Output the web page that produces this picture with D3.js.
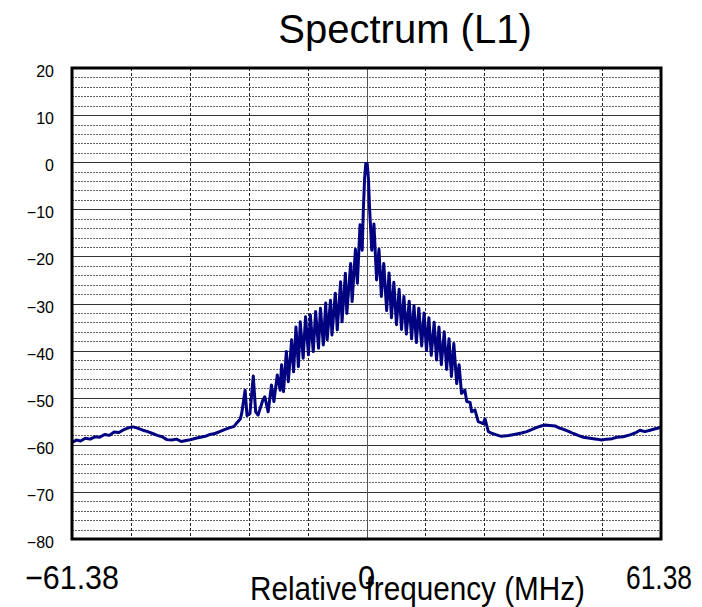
<!DOCTYPE html>
<html>
<head>
<meta charset="utf-8">
<script src="https://cdn.jsdelivr.net/npm/d3@7"></script>
<style>
  body { margin: 0; background: #fff; }
  svg { display: block; }
  text { font-family: "Liberation Sans", Arial, sans-serif; fill: #000; }
</style>
</head>
<body>
<div id="chart"></div>
<script>
/* ---------- data ---------- */
const titleText = 'Spectrum (L1)';
const xLabelText = 'Relative frequency (MHz)';
const yTicks = [20, 10, 0, -10, -20, -30, -40, -50, -60, -70, -80];
const xTickValues = [-61.38, 0, 61.38];
const xTickLabels = ['\u221261.38', '0', '61.38'];

// relative frequency (MHz)
const freq = [
  -61.38, -60.5, -59.6, -58.6, -57.6, -56.6, -55.6, -54.6, -53.6, -52.6,
  -51.6, -50.6, -49.6, -48.6, -47.6, -46.6, -45.6, -44.6, -43.6, -42.6,
  -41.6, -40.6, -39.6, -38.6, -37.6, -36.6, -35.6, -34.6, -33.6, -32.6,
  -31.6, -30.6, -29.6, -28.6, -27.6, -27.0, -26.3,
  -26.0, -25.3, -24.9, -24.3, -23.6, -23.1, -22.6, -21.6, -21.2, -20.5,
  -19.8, -19.3, -18.6, -18.0, -17.7, -17.3, -16.7, -16.3, -15.6, -15.2,
  -14.7, -14.2, -13.8, -13.2, -12.7, -12.1, -11.7, -11.1, -10.6, -10.0,
  -9.6, -9.0, -8.5, -8.2, -7.5, -7.2, -6.5, -6.1, -5.4, -5.1,
  -4.4, -4.1, -3.3, -3.0, -2.3, -1.9, -1.35, -0.9, -0.65, -0.4,
  -0.15, 0.15, 0.4, 0.65, 1.1, 1.55, 2.1, 2.6, 3.1, 3.6, 4.2,
  4.7, 5.2, 5.7, 6.25, 6.8, 7.3, 7.8, 8.3, 8.9, 9.4,
  9.9, 10.4, 10.9, 11.5, 12.0, 12.5, 13.0, 13.5, 14.1, 14.6,
  15.1, 15.6, 16.2, 16.7, 17.2, 17.7, 18.2, 18.8, 19.3, 19.8,
  20.5, 20.9, 21.6, 21.9, 22.6, 23.3, 24.3, 24.7, 25.4,
  26.2, 27.1, 28.1, 29.2, 30.2, 31.3, 32.3, 33.4, 34.4, 35.5,
  36.4, 37.2, 38.2, 39.3, 40.1, 41.0, 42.0, 43.1, 44.1, 45.2,
  46.6, 48.0, 49.0, 50.1, 51.2, 52.2, 53.5, 54.9, 56.0, 57.0,
  58.0, 59.1, 60.2, 61.38
];

// power level (dB)
const level = [
  -59.5, -59.0, -59.2, -58.6, -58.8, -58.3, -58.4, -57.8, -58.0, -57.3,
  -57.4, -56.8, -56.4, -56.2, -56.5, -56.9, -57.2, -57.6, -58.0, -58.3,
  -58.9, -59.0, -58.8, -59.3, -59.1, -58.9, -58.6, -58.4, -58.2, -57.8,
  -57.6, -57.2, -56.8, -56.4, -56.1, -55.3, -54.5,
  -53.3, -48.4, -53.8, -53.4, -45.4, -53.0, -53.7, -50.5, -49.8, -53.0,
  -47.3, -50.8, -45.2, -48.4, -43.0, -48.7, -40.2, -46.6, -37.7, -44.5,
  -35.0, -43.4, -33.9, -41.6, -32.8, -40.9, -32.4, -40.2, -31.7, -39.5,
  -31.0, -38.8, -29.9, -37.7, -29.3, -36.7, -27.8, -35.6, -25.4, -33.9,
  -23.6, -32.1, -21.5, -29.6, -18.5, -25.7, -13.3, -18.7, -10.0, -3.5,
  -0.3, -0.3, -3.5, -10.0, -18.7, -13.1, -25.0, -18.5, -28.5, -21.5, -31.5,
  -23.5, -33.0, -25.5, -34.5, -27.0, -35.5, -28.5, -36.5, -29.5, -37.5,
  -30.5, -38.3, -31.0, -39.0, -32.0, -40.0, -33.0, -41.0, -34.0, -42.0,
  -35.0, -43.0, -36.0, -44.0, -37.5, -45.5, -38.5, -47.0, -43.0, -49.1,
  -48.4, -50.8, -51.0, -53.0, -52.6, -55.1, -55.5, -54.5, -57.2,
  -57.6, -57.9, -58.2, -58.1, -57.9, -57.7, -57.5, -57.2, -56.8, -56.3,
  -56.0, -55.8, -55.9, -56.0, -56.4, -56.7, -57.1, -57.6, -58.0, -58.4,
  -58.6, -58.8, -59.0, -58.8, -58.7, -58.4, -58.3, -57.9, -57.5, -56.9,
  -57.2, -56.9, -56.6, -56.3
];

/* ---------- layout ---------- */
const width = 702, height = 607;
const plot = { left: 72, right: 661, top: 68, bottom: 539 };

const svg = d3.select('#chart')
  .append('svg')
  .attr('width', width)
  .attr('height', height);

const x = d3.scaleLinear().domain([-61.38, 61.38]).range([plot.left, plot.right]);
const y = d3.scaleLinear().domain([-80, 20]).range([plot.bottom, plot.top]);

// horizontal grid: dotted every 2 dB, solid every 10 dB
const hLines = d3.range(-78, 20, 2);
svg.append('g')
  .selectAll('line')
  .data(hLines)
  .join('line')
  .attr('x1', plot.left).attr('x2', plot.right)
  .attr('y1', d => Math.round(y(d)) + 0.5).attr('y2', d => Math.round(y(d)) + 0.5)
  .attr('stroke', d => d % 10 === 0 ? '#333' : '#666')
  .attr('stroke-width', 1)
  .attr('stroke-dasharray', d => d % 10 === 0 ? null : '2,1');

// vertical grid: 10 divisions, solid at centre
const vLines = d3.range(1, 10).map(i => -61.38 + i * 122.76 / 10);
svg.append('g')
  .selectAll('line')
  .data(vLines)
  .join('line')
  .attr('x1', d => Math.round(x(d)) + 0.5).attr('x2', d => Math.round(x(d)) + 0.5)
  .attr('y1', plot.top).attr('y2', plot.bottom)
  .attr('stroke', (d, i) => i === 4 ? '#555' : '#222')
  .attr('stroke-width', 1)
  .attr('stroke-dasharray', (d, i) => i === 4 ? null : '3,2');

// spectrum trace
const line = d3.line()
  .x((d, i) => x(freq[i]))
  .y((d, i) => y(level[i]));

svg.append('path')
  .datum(freq)
  .attr('d', line)
  .attr('fill', 'none')
  .attr('stroke', '#000080')
  .attr('stroke-width', 3)
  .attr('stroke-linejoin', 'round');

// plot frame
svg.append('rect')
  .attr('x', plot.left).attr('y', plot.top)
  .attr('width', plot.right - plot.left).attr('height', plot.bottom - plot.top)
  .attr('fill', 'none')
  .attr('stroke', '#000')
  .attr('stroke-width', 3);

// y tick labels
svg.append('g')
  .selectAll('text')
  .data(yTicks)
  .join('text')
  .attr('x', 54)
  .attr('y', d => y(d) + 9)
  .attr('text-anchor', 'end')
  .attr('font-size', 16)
  .text(d => d < 0 ? '\u2212' + Math.abs(d) : d);

// x tick labels
const xTickWidths = [94, 17, 66];
svg.append('g')
  .selectAll('text')
  .data(xTickValues)
  .join('text')
  .attr('x', (d, i) => x(d) - xTickWidths[i] / 2 - (i === 2 ? 2 : 0))
  .attr('y', 589)
  .attr('font-size', 33)
  .attr('textLength', (d, i) => xTickWidths[i])
  .attr('lengthAdjust', 'spacingAndGlyphs')
  .text((d, i) => xTickLabels[i]);

// x axis title
svg.append('text')
  .attr('x', 250)
  .attr('y', 600)
  .attr('font-size', 34)
  .attr('textLength', 335)
  .attr('lengthAdjust', 'spacingAndGlyphs')
  .text(xLabelText);

// chart title
svg.append('text')
  .attr('x', 405)
  .attr('y', 43)
  .attr('text-anchor', 'middle')
  .attr('font-size', 40)
  .text(titleText);
</script>
</body>
</html>
